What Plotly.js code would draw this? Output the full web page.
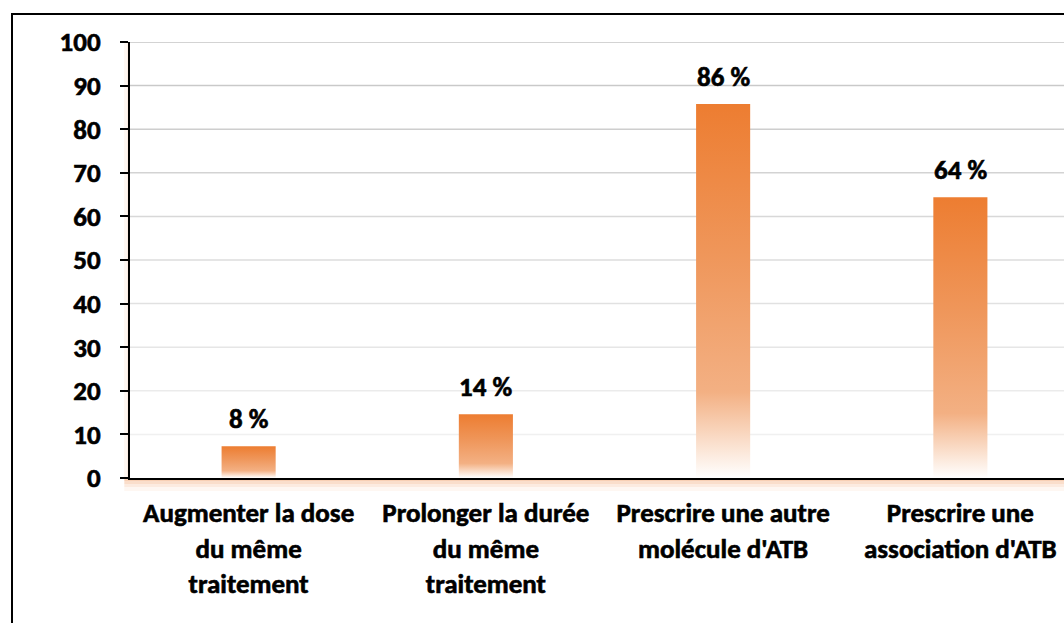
<!DOCTYPE html>
<html><head><meta charset="utf-8">
<script src="https://cdn.plot.ly/plotly-3.0.1.min.js"></script>
<style>
html,body{margin:0;padding:0;overflow:hidden;background:#fff;width:1064px;height:623px}
#frame{position:absolute;left:11px;top:13px;border:2px solid #000;width:1100px;height:640px}
#chart{width:1100px;height:640px}
#chart .xtick text, #chart .ytick text, #chart .annotation-text{paint-order:stroke;stroke:#000;stroke-width:0.6px}
</style></head><body>
<div id="frame"><div id="chart"></div></div>
<script>
const categories = [
  "Augmenter la dose<br>du même<br>traitement",
  "Prolonger la durée<br>du même<br>traitement",
  "Prescrire une autre<br>molécule d'ATB",
  "Prescrire une<br>association d'ATB"
];
const values = [7.3, 14.6, 85.8, 64.4];
const valueLabels = ["8 %", "14 %", "86 %", "64 %"];
const yTicks = [0, 10, 20, 30, 40, 50, 60, 70, 80, 90, 100];

const FONT = "Carlito, Calibri, Lato, sans-serif";
const halfW = 0.114;
const grad = [[0, '#FFFFFF'], [0.06, '#FCEBDF'], [0.23, '#F3B083'], [0.6, '#EF965A'], [1, '#ED7D31']];

const traces = values.map((v, i) => ({
  type: 'scatter', mode: 'lines',
  x: [i - halfW, i + halfW, i + halfW, i - halfW, i - halfW],
  y: [0, 0, v, v, 0],
  fill: 'toself',
  fillgradient: {type: 'vertical', colorscale: grad, start: 0, stop: v},
  line: {width: 0, color: 'rgba(0,0,0,0)'},
  hoverinfo: 'skip', showlegend: false
}));

function gridColor(t) {
  const lo = 245, hi = 196;
  const c = Math.round(lo + (hi - lo) * t / 100);
  return `rgb(${c},${c},${c})`;
}
const shapes = yTicks.filter(t => t > 0).map(t => ({
  type: 'line', xref: 'paper', yref: 'y', x0: 0, x1: 1, y0: t, y1: t,
  line: {color: gridColor(t), width: 1.5}, layer: 'below'
}));
// soft shadow along the axes
const glow = [[1, 3, 0.6], [3, 6, 0.42], [6, 9, 0.25], [9, 13, 0.1]];
glow.forEach(([a, b, op]) => {
  shapes.push({type: 'rect', xref: 'paper', yref: 'paper', ysizemode: 'pixel', yanchor: 0,
    x0: -0.006, x1: 1, y0: -a, y1: -b, fillcolor: '#F4B183', opacity: op, line: {width: 0}, layer: 'below'});
});
[[1, 3, 0.22], [3, 6, 0.1]].forEach(([a, b, op]) => {
  shapes.push({type: 'rect', xref: 'paper', yref: 'paper', xsizemode: 'pixel', xanchor: 0,
    x0: -a, x1: -b, y0: 0, y1: 1, fillcolor: '#F4B183', opacity: op, line: {width: 0}, layer: 'below'});
});

const annotations = values.map((v, i) => ({
  x: i, y: v, xref: 'x', yref: 'y', text: valueLabels[i], showarrow: false,
  yanchor: 'bottom', yshift: 9, font: {family: FONT, size: 27, color: '#000', weight: 'bold'}
}));

const layout = {
  width: 1100, height: 640,
  margin: {l: 117, r: 34, t: 27, b: 177},
  paper_bgcolor: '#fff', plot_bgcolor: 'rgba(0,0,0,0)',
  font: {family: FONT, size: 27, color: '#000', weight: 'bold'},
  showlegend: false,
  xaxis: {
    range: [-0.5, 3.5], tickvals: [0, 1, 2, 3], ticktext: categories,
    showgrid: false, zeroline: false, showline: true, linecolor: '#000', linewidth: 2,
    ticks: '', ticklabelstandoff: 10, fixedrange: true,
    tickfont: {family: FONT, size: 27, color: '#000', weight: 'bold'}
  },
  yaxis: {
    range: [0, 100], tickvals: yTicks, showgrid: false, zeroline: false,
    showline: true, linecolor: '#000', linewidth: 2,
    ticks: 'outside', ticklen: 8, tickwidth: 2, tickcolor: '#000',
    ticklabelstandoff: 14, fixedrange: true,
    tickfont: {family: FONT, size: 27, color: '#000', weight: 'bold'}
  },
  shapes: shapes,
  annotations: annotations
};

Plotly.newPlot('chart', traces, layout, {displayModeBar: false, staticPlot: true});
</script>
</body></html>
